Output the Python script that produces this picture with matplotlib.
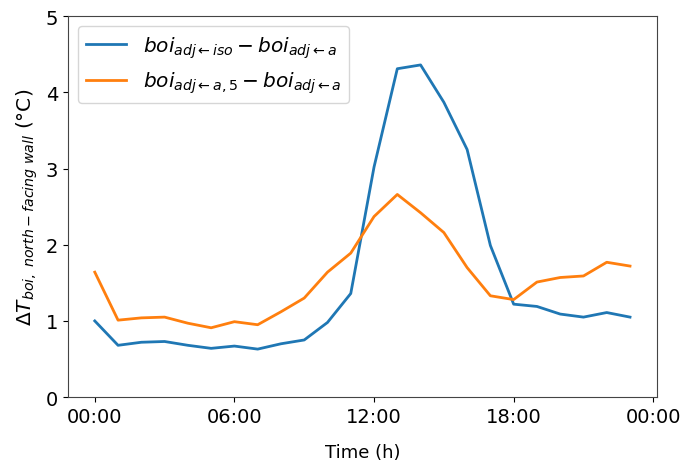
import matplotlib
matplotlib.use("Agg")
import matplotlib.pyplot as plt
import numpy as np

hours = list(range(24))
iso_minus_a = [1.00, 0.68, 0.72, 0.73, 0.68, 0.64, 0.67, 0.63, 0.70, 0.75,
               0.98, 1.36, 3.02, 4.31, 4.36, 3.87, 3.25, 1.99, 1.22, 1.19,
               1.09, 1.05, 1.11, 1.05]
a5_minus_a = [1.64, 1.01, 1.04, 1.05, 0.97, 0.91, 0.99, 0.95, 1.12, 1.30,
              1.64, 1.89, 2.37, 2.66, 2.42, 2.16, 1.70, 1.33, 1.28, 1.51,
              1.57, 1.59, 1.77, 1.72]
xtick_hours = [0, 6, 12, 18, 24]
xtick_labels = ["00:00", "06:00", "12:00", "18:00", "00:00"]

fig = plt.figure(figsize=(6.83, 4.64), dpi=100)
ax = fig.add_axes([0.0996, 0.142, 0.862, 0.821])

ax.plot(hours, iso_minus_a, color="#1f77b4", lw=2,
        label=r"$boi_{adj\leftarrow iso} - boi_{adj\leftarrow a}$")
ax.plot(hours, a5_minus_a, color="#ff7f0e", lw=2,
        label=r"$boi_{adj\leftarrow a,5} - boi_{adj\leftarrow a}$")

ax.set_ylim(0, 5)
ax.set_xticks(xtick_hours)
ax.set_xticklabels(xtick_labels)
ax.tick_params(labelsize=14)
for spine in ax.spines.values():
    spine.set_color("#444444")
ax.set_xlabel("Time (h)", fontsize=13, labelpad=12)
ax.set_ylabel(r"$\Delta T_{boi,\ north - facing\ wall}$ (°C)", fontsize=14.5)
ax.legend(loc="upper left", fontsize=14.5, handlelength=2.0)

fig.savefig("out.png", dpi=100)
